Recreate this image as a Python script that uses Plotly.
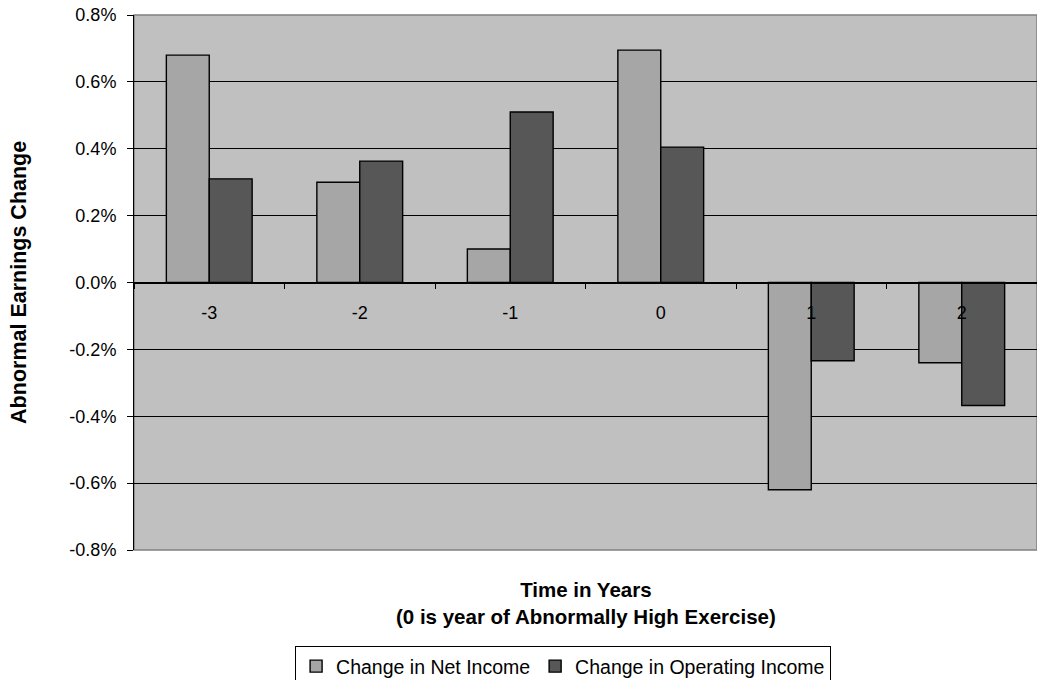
import plotly.graph_objects as go

years = ["-3", "-2", "-1", "0", "1", "2"]
net_income = [0.0068, 0.0030, 0.0010, 0.00695, -0.0062, -0.0024]
operating_income = [0.0031, 0.00363, 0.0051, 0.00405, -0.00234, -0.00368]

y_tick_values = [-0.008, -0.006, -0.004, -0.002, 0.0, 0.002, 0.004, 0.006, 0.008]
y_tick_labels = ["-0.8%", "-0.6%", "-0.4%", "-0.2%", "0.0%", "0.2%", "0.4%", "0.6%", "0.8%"]

FONT = "Liberation Sans, Arial, sans-serif"

fig = go.Figure()
fig.add_trace(go.Bar(
    x=years, y=net_income, name="Change in Net Income",
    marker=dict(color="#A6A6A6", line=dict(color="#000000", width=1.4)),
))
fig.add_trace(go.Bar(
    x=years, y=operating_income, name="Change in Operating Income",
    marker=dict(color="#575757", line=dict(color="#000000", width=1.4)),
))

fig.update_layout(
    width=1037, height=680,
    margin=dict(l=134, r=0, t=15, b=130),
    paper_bgcolor="white", plot_bgcolor="#C0C0C0",
    barmode="group", bargap=0.43, bargroupgap=0,
    font=dict(family=FONT, size=18, color="#000000"),
    showlegend=True,
    legend=dict(
        orientation="h", xref="container", yref="container",
        x=0.543, xanchor="center", y=0.05, yanchor="top",
        bgcolor="white", bordercolor="#000000", borderwidth=1,
        font=dict(family=FONT, size=19.5), itemwidth=30,
        traceorder="normal",
    ),
    xaxis=dict(
        type="category", anchor="free", position=0.5,
        showline=True, linecolor="#000000", linewidth=1,
        ticks="outside", tickson="boundaries", ticklen=5, tickcolor="#000000",
        ticklabelstandoff=14,
        showgrid=False, tickfont=dict(size=18),
    ),
    yaxis=dict(
        range=[-0.008, 0.008],
        tickmode="array", tickvals=y_tick_values, ticktext=y_tick_labels,
        showgrid=True, gridcolor="#000000", gridwidth=1,
        zeroline=False,
        showline=True, linecolor="#000000", linewidth=1,
        ticks="outside", ticklen=6, tickcolor="#000000",
        ticklabelstandoff=7,
        tickfont=dict(size=18),
    ),
    shapes=[dict(type="rect", xref="paper", yref="paper", x0=0, x1=1, y0=0, y1=1,
                 line=dict(color="#808080", width=1.5), layer="below")],
    annotations=[
        dict(text="<b>Abnormal Earnings Change</b>", textangle=-90,
             xref="paper", yref="paper", x=-0.128, y=0.5,
             xanchor="center", yanchor="middle", showarrow=False,
             font=dict(size=21.5)),
        dict(text="<b>Time in Years</b><br><b>(0 is year of Abnormally High Exercise)</b>",
             xref="paper", yref="paper", x=0.5, y=-0.049,
             xanchor="center", yanchor="top", showarrow=False,
             font=dict(size=20.5)),
    ],
)

fig.write_html("out.html")
